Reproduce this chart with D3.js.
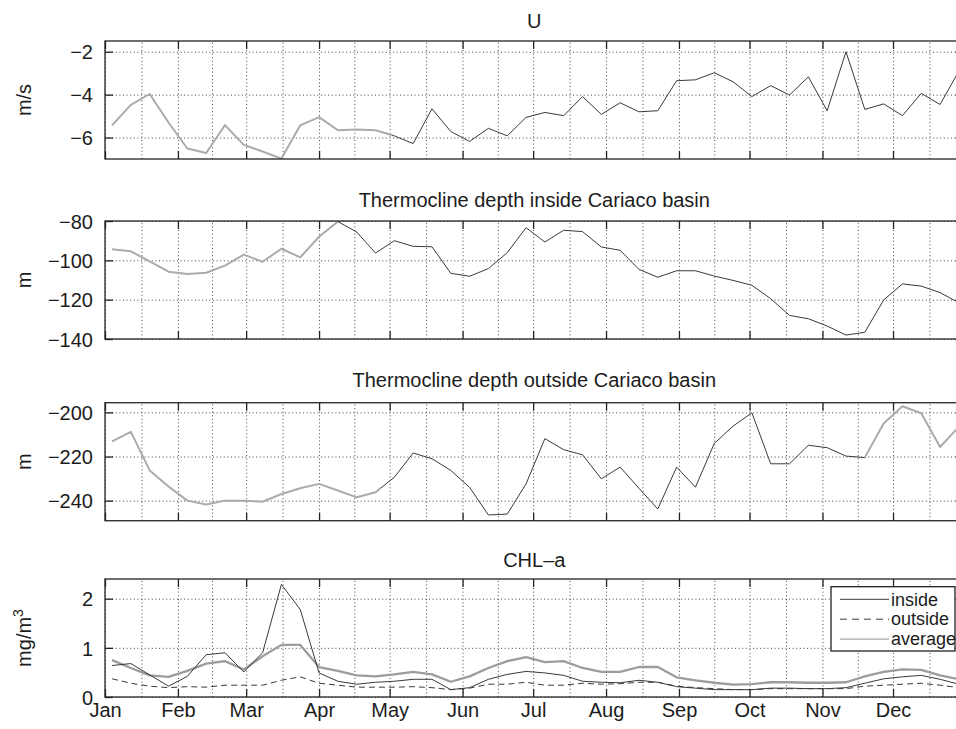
<!DOCTYPE html>
<html><head><meta charset="utf-8">
<script src="https://cdn.jsdelivr.net/npm/d3@7"></script>
<style>body{margin:0;background:#fff}svg{display:block}</style>
</head><body><svg id="c" width="956" height="729"></svg>
<script>
// ---------- data ----------
const dayOfYear = [4,12,20,28,36,44,52,60,68,76,84,92,100,108,116,124,132,140,148,156,164,172,180,188,196,204,212,220,228,236,244,252,260,268,276,284,292,300,308,316,324,332,340,348,356,364];
const monthLabels = ["Jan","Feb","Mar","Apr","May","Jun","Jul","Aug","Sep","Oct","Nov","Dec"];
const uWind = [-5.43,-4.48,-3.97,-5.3,-6.51,-6.72,-5.42,-6.34,-6.65,-6.98,
  -5.43,-5.05,-5.66,-5.62,-5.66,-5.92,-6.28,-4.66,-5.72,-6.18,
  -5.57,-5.92,-5.06,-4.83,-4.98,-4.09,-4.92,-4.38,-4.80,-4.75,
  -3.35,-3.31,-2.98,-3.40,-4.09,-3.58,-4.02,-3.17,-4.75,-2.0,
  -4.69,-4.43,-4.98,-3.94,-4.46,-2.9];
const thermoInside = [-94.4,-95.4,-100.5,-105.8,-107.0,-106.3,-102.7,-97.1,-100.7,-94.1,
  -98.5,-88.0,-80.3,-85.6,-96.3,-90.0,-92.9,-93.1,-106.6,-108.1,
  -104.2,-96.1,-83.4,-90.7,-84.7,-85.4,-93.2,-94.9,-104.6,-108.6,
  -105.3,-105.3,-108.0,-110.2,-112.7,-119.5,-128.0,-129.7,-133.4,-138.0,
  -136.6,-120.2,-112.0,-113.1,-116.4,-121.6];
const thermoOutside = [-213.1,-208.8,-226.3,-233.6,-240.0,-241.8,-240.0,-240.0,-240.5,-237.0,
  -234.4,-232.4,-235.4,-238.5,-236.2,-229.4,-218.4,-221.0,-226.3,-234.0,
  -246.5,-246.1,-232.4,-211.9,-216.9,-219.2,-230.1,-224.8,-234.4,-243.8,
  -224.8,-233.9,-214.1,-206.2,-200.2,-223.3,-223.3,-214.9,-216.0,-219.8,
  -220.5,-205.0,-197.2,-200.4,-215.7,-206.5];
const chlInside = [0.64,0.68,0.45,0.22,0.42,0.86,0.90,0.51,0.90,2.29,
  1.78,0.49,0.32,0.26,0.30,0.32,0.36,0.36,0.15,0.19,
  0.36,0.46,0.52,0.49,0.44,0.32,0.30,0.29,0.34,0.30,
  0.21,0.18,0.15,0.15,0.15,0.18,0.18,0.17,0.17,0.19,
  0.28,0.37,0.41,0.44,0.36,0.26];
const chlOutside = [0.37,0.28,0.22,0.19,0.21,0.20,0.24,0.24,0.24,0.34,
  0.41,0.28,0.24,0.20,0.20,0.20,0.21,0.19,0.15,0.18,
  0.26,0.26,0.30,0.24,0.24,0.28,0.26,0.27,0.30,0.30,
  0.22,0.19,0.17,0.15,0.15,0.17,0.17,0.17,0.17,0.17,
  0.22,0.24,0.26,0.28,0.24,0.19];
const chlAverage = [0.75,0.59,0.44,0.41,0.53,0.68,0.73,0.56,0.83,1.06,
  1.06,0.61,0.53,0.44,0.42,0.46,0.51,0.46,0.31,0.42,
  0.59,0.73,0.81,0.71,0.73,0.59,0.51,0.51,0.61,0.61,
  0.40,0.34,0.29,0.25,0.26,0.30,0.30,0.29,0.29,0.30,
  0.42,0.51,0.56,0.55,0.44,0.36];
const panelTitles = ["U","Thermocline depth inside Cariaco basin","Thermocline depth outside Cariaco basin","CHL\u2013a"];
const yTicksU = [-6,-4,-2];
const yTicksIn = [-140,-120,-100,-80];
const yTicksOut = [-240,-220,-200];
const yTicksChl = [0,1,2];
const legendLabels = ["inside","outside","average"];

// ---------- layout ----------
const W = 956, H = 729;
const left = 105, right = 963.6, ph = 118;
const FONT = "'Liberation Sans', Arial, Helvetica, sans-serif";
const svg = d3.select("#c");
svg.append("rect").attr("width",W).attr("height",H).attr("fill","#fff");

const t0 = new Date(Date.UTC(2008,0,1)), t1 = new Date(Date.UTC(2008,11,31));
const x = d3.scaleUtc().domain([t0,t1]).range([left,right]);
const dates = dayOfYear.map(d => d3.utcDay.offset(t0, d-1));
const monthStarts = d3.utcMonth.range(t0, new Date(Date.UTC(2009,0,1)));
const monthEnds = monthStarts.map((m,i) => i<11 ? monthStarts[i+1] : new Date(Date.UTC(2009,0,1)));
const midMonths = monthStarts.map((m,i) => new Date((+m + +monthEnds[i])/2));
const gridDates = monthStarts.concat(midMonths);
const D = s => new Date(s+"T00:00:00Z");
const fmt = d3.format("d");

const panels = [
  {top:41, tb:28, domain:[-7,-1.5], ticks:yTicksU, ylabel:"m/s",
   series:[{v:uWind, kind:"mixed"}], gray:[[D("2008-01-01"),D("2008-05-02")]]},
  {top:221, tb:207, domain:[-140,-80], ticks:yTicksIn, ylabel:"m",
   series:[{v:thermoInside, kind:"mixed"}], gray:[[D("2008-01-01"),D("2008-04-09")]]},
  {top:402.7, tb:387, domain:[-249.1,-195.6], ticks:yTicksOut, ylabel:"m",
   series:[{v:thermoOutside, kind:"mixed"}], gray:[[D("2008-01-01"),D("2008-04-27")],[D("2008-11-19"),D("2009-01-05")]]},
  {top:579, tb:567, domain:[0,2.4], ticks:yTicksChl, ylabel:"mg/m3",
   series:[{v:chlAverage, kind:"avg"},{v:chlOutside, kind:"dash"},{v:chlInside, kind:"solid"}], gray:[]}
];
panels.forEach((p,i)=>p.title = panelTitles[i]);

const BLACK = "#3a3a3a", GRAY = "#ababab", TXT = "#1c1c1c";

panels.forEach((p, pi) => {
  const top = p.top, bottom = top + ph;
  const y = d3.scaleLinear().domain(p.domain).range([bottom, top]);
  const g = svg.append("g");

  // grid
  const gx = g.append("g").attr("transform",`translate(0,${bottom})`)
    .call(d3.axisBottom(x).tickValues(gridDates).tickSize(-ph).tickFormat(""));
  gx.select(".domain").remove();
  gx.selectAll("line").attr("stroke","#444").attr("stroke-width",1).attr("stroke-dasharray","1,2.6");
  const gy = g.append("g").attr("transform",`translate(${left},0)`)
    .call(d3.axisLeft(y).tickValues(p.ticks).tickSize(-(right-left)).tickFormat(""));
  gy.select(".domain").remove();
  gy.selectAll("line").attr("stroke","#444").attr("stroke-width",1).attr("stroke-dasharray","1,2.6");

  // clip paths
  const cid = "clip"+pi;
  svg.append("clipPath").attr("id",cid).append("rect")
    .attr("x",left).attr("y",top).attr("width",right-left).attr("height",ph);
  const grayC = svg.append("clipPath").attr("id","gray"+pi);
  p.gray.forEach(r => grayC.append("rect").attr("x",x(r[0])).attr("y",top-5)
    .attr("width",x(r[1])-x(r[0])).attr("height",ph+10));
  const blackC = svg.append("clipPath").attr("id","black"+pi);
  let cur = x.range()[0]-20;
  const sorted = p.gray.map(r=>[x(r[0]),x(r[1])]).sort((a,b)=>a[0]-b[0]);
  sorted.forEach(r => { if (r[0]>cur) blackC.append("rect").attr("x",cur).attr("y",top-5).attr("width",r[0]-cur).attr("height",ph+10); cur = Math.max(cur,r[1]); });
  if (cur < right+20) blackC.append("rect").attr("x",cur).attr("y",top-5).attr("width",right+20-cur).attr("height",ph+10);

  const line = d3.line().x((d,i)=>x(dates[i])).y(d=>y(d));
  const lg = g.append("g").attr("clip-path",`url(#${cid})`);
  p.series.forEach(s => {
    if (s.kind === "mixed") {
      lg.append("g").attr("clip-path",`url(#black${pi})`).append("path").datum(s.v).attr("d",line)
        .attr("fill","none").attr("stroke",BLACK).attr("stroke-width",1).attr("stroke-linejoin","round");
      lg.append("g").attr("clip-path",`url(#gray${pi})`).append("path").datum(s.v).attr("d",line)
        .attr("fill","none").attr("stroke",GRAY).attr("stroke-width",2).attr("stroke-linejoin","round");
    } else if (s.kind === "avg") {
      lg.append("path").datum(s.v).attr("d",line).attr("fill","none")
        .attr("stroke","#9c9c9c").attr("stroke-width",2.3).attr("stroke-linejoin","round");
    } else if (s.kind === "dash") {
      lg.append("path").datum(s.v).attr("d",line).attr("fill","none")
        .attr("stroke",BLACK).attr("stroke-width",1).attr("stroke-dasharray","6,4");
    } else {
      lg.append("path").datum(s.v).attr("d",line).attr("fill","none")
        .attr("stroke",BLACK).attr("stroke-width",1).attr("stroke-linejoin","round");
    }
  });

  // frame
  g.append("rect").attr("x",left).attr("y",top).attr("width",right-left).attr("height",ph)
    .attr("fill","none").attr("stroke","#333").attr("stroke-width",1.4);

  // ticks
  const ax = g.append("g").attr("transform",`translate(${left},0)`)
    .call(d3.axisLeft(y).tickValues(p.ticks).tickFormat(fmt).tickSizeInner(-8).tickSizeOuter(0).tickPadding(12));
  ax.select(".domain").remove();
  ax.selectAll("line").attr("stroke","#222").attr("stroke-width",1.3);
  ax.selectAll("text").attr("font-family",FONT).attr("font-size",20).attr("fill",TXT).attr("dy","0.36em");
  const axr = g.append("g").attr("transform",`translate(${right},0)`)
    .call(d3.axisRight(y).tickValues(p.ticks).tickSizeInner(-8).tickSizeOuter(0).tickFormat(""));
  axr.select(".domain").remove();
  axr.selectAll("line").attr("stroke","#222").attr("stroke-width",1.3);
  const axt = g.append("g").attr("transform",`translate(0,${top})`)
    .call(d3.axisTop(x).tickValues(monthStarts).tickSizeInner(-8).tickSizeOuter(0).tickFormat(""));
  axt.select(".domain").remove();
  axt.selectAll("line").attr("stroke","#222").attr("stroke-width",1.3);
  const axb = g.append("g").attr("transform",`translate(0,${bottom})`)
    .call(d3.axisBottom(x).tickValues(monthStarts).tickSizeInner(-8).tickSizeOuter(0).tickPadding(6)
      .tickFormat(pi===3 ? ((d,i)=>monthLabels[i]) : ""));
  axb.select(".domain").remove();
  axb.selectAll("line").attr("stroke","#222").attr("stroke-width",1.3);
  axb.selectAll("text").attr("font-family",FONT).attr("font-size",20).attr("fill",TXT);

  // title
  svg.append("text").attr("x",(left+right)/2).attr("y",p.tb).attr("text-anchor","middle")
    .attr("font-family",FONT).attr("font-size",20).attr("fill",TXT).text(p.title);

  // y label
  const yl = svg.append("text").attr("transform",`translate(31,${top+ph/2}) rotate(-90)`)
    .attr("text-anchor","middle").attr("font-family",FONT).attr("font-size",20).attr("fill",TXT);
  if (p.ylabel === "mg/m3") {
    yl.append("tspan").text("mg/m");
    yl.append("tspan").attr("dy",-8).attr("font-size",14).text("3");
  } else yl.text(p.ylabel);

  // legend
  if (pi === 3) {
    const lgd = svg.append("g");
    lgd.append("rect").attr("x",831).attr("y",586.7).attr("width",124).attr("height",64.3)
      .attr("fill","#fff").attr("stroke","#222").attr("stroke-width",1.3);
    const styles = [
      {stroke:BLACK, w:1, dash:null},
      {stroke:BLACK, w:1, dash:"7,5"},
      {stroke:"#a8a8a8", w:1.3, dash:null}
    ];
    legendLabels.forEach((lab,i) => {
      const yy = 599.3 + i*19.9;
      lgd.append("line").attr("x1",840).attr("x2",889).attr("y1",yy).attr("y2",yy)
        .attr("stroke",styles[i].stroke).attr("stroke-width",styles[i].w)
        .attr("stroke-dasharray",styles[i].dash);
      lgd.append("text").attr("x",891).attr("y",yy+6.2).attr("font-family",FONT)
        .attr("font-size",18).attr("fill",TXT).text(lab);
    });
  }
});
</script></body></html>
